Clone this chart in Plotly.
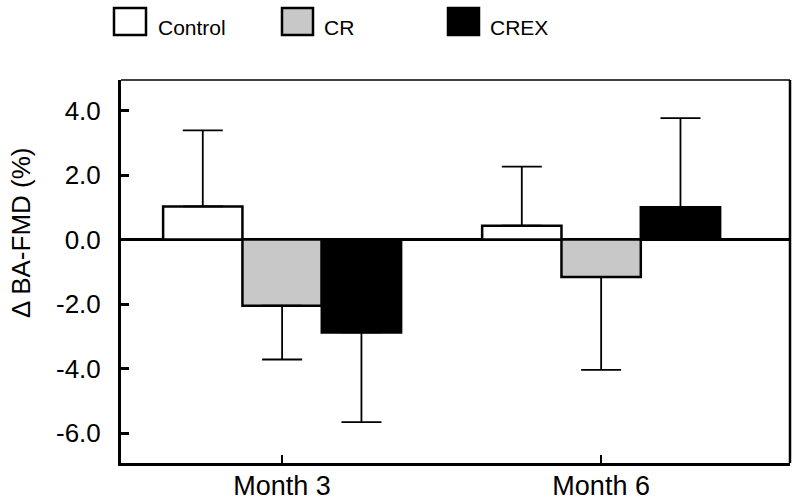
import plotly.graph_objects as go

categories = ["Month 3", "Month 6"]
groups = ["Control", "CR", "CREX"]
control = [1.03, 0.43]
cr = [-2.05, -1.16]
crex = [-2.88, 1.00]
control_err = [2.36, 1.83]
cr_err = [1.67, 2.88]
crex_err = [2.78, 2.77]
ytick_vals = [-6, -4, -2, 0, 2, 4]
ytick_text = ["-6.0", "-4.0", "-2.0", "0.0", "2.0", "4.0"]
y_title = "Δ BA-FMD (%)"

colors = ["#ffffff", "#c8c8c8", "#000000"]
series = [control, cr, crex]
errors = [control_err, cr_err, crex_err]

FONT = "Liberation Sans, Arial, sans-serif"
W, H = 800, 504
L, R, T, B = 121, 10, 80, 41
pw, ph = W - L - R, H - T - B

def px2paper_x(px):
    return (px - L) / pw

def px2paper_y(py):
    return (H - B - py) / ph

fig = go.Figure()
for name, vals, errs, col in zip(groups, series, errors, colors):
    plus = [e if v > 0 else 0 for v, e in zip(vals, errs)]
    minus = [e if v < 0 else 0 for v, e in zip(vals, errs)]
    fig.add_trace(go.Bar(
        x=categories, y=vals, name=name,
        marker=dict(color=col, line=dict(color="black", width=2.5)),
        error_y=dict(type="data", symmetric=False, array=plus, arrayminus=minus,
                     color="black", thickness=1.8, width=20),
        showlegend=False,
    ))

# legend drawn as swatches + labels
legend_boxes = [(114, 146), (282, 313), (448, 479)]
legend_text_x = [156, 322, 488]
for (x0, x1), tx, name, col in zip(legend_boxes, legend_text_x, groups, colors):
    fig.add_shape(type="rect", xref="paper", yref="paper",
                  x0=px2paper_x(x0), x1=px2paper_x(x1),
                  y0=px2paper_y(35), y1=px2paper_y(8),
                  line=dict(color="black", width=2.5), fillcolor=col)
    fig.add_annotation(xref="paper", yref="paper", x=px2paper_x(tx), y=px2paper_y(27),
                       text=name, showarrow=False, xanchor="left", yanchor="middle",
                       font=dict(family=FONT, size=21, color="black"))

# y-axis title placed as in the reference (not centred on the plot area)
fig.add_annotation(xref="paper", yref="paper", x=px2paper_x(21), y=px2paper_y(233),
                   text=y_title, textangle=-90, showarrow=False,
                   xanchor="center", yanchor="middle",
                   font=dict(family=FONT, size=26, color="black"))

# top and right frame lines (thinner)
fig.add_shape(type="line", xref="paper", yref="paper", x0=0, x1=1, y0=1, y1=1,
              line=dict(color="black", width=1.5))
fig.add_shape(type="line", xref="paper", yref="paper", x0=1, x1=1, y0=0, y1=1,
              line=dict(color="black", width=2.5))

fig.update_layout(
    width=W, height=H,
    margin=dict(l=L, r=R, t=T, b=B),
    paper_bgcolor="white", plot_bgcolor="white",
    barmode="group", bargap=0.254, bargroupgap=0,
    font=dict(family=FONT, color="black"),
    xaxis=dict(
        type="category", range=[-0.505, 1.592], automargin=False,
        showline=True, linecolor="black", linewidth=3,
        ticks="inside", ticklen=8, tickwidth=2, tickcolor="black",
        tickfont=dict(family=FONT, size=27, color="black"),
        ticklabelstandoff=-3,
        showgrid=False, zeroline=False,
    ),
    yaxis=dict(
        range=[-6.93, 4.95], automargin=False,
        tickvals=ytick_vals, ticktext=ytick_text,
        showline=True, linecolor="black", linewidth=3,
        ticks="inside", ticklen=8, tickwidth=2.5, tickcolor="black",
        tickfont=dict(family=FONT, size=26, color="black"),
        ticklabelstandoff=12,
        showgrid=False,
        zeroline=True, zerolinecolor="black", zerolinewidth=2.5,
    ),
)

fig.write_html("out.html", config={"displayModeBar": False},
               post_script="document.body.style.margin='0px';document.body.style.overflow='hidden';")
